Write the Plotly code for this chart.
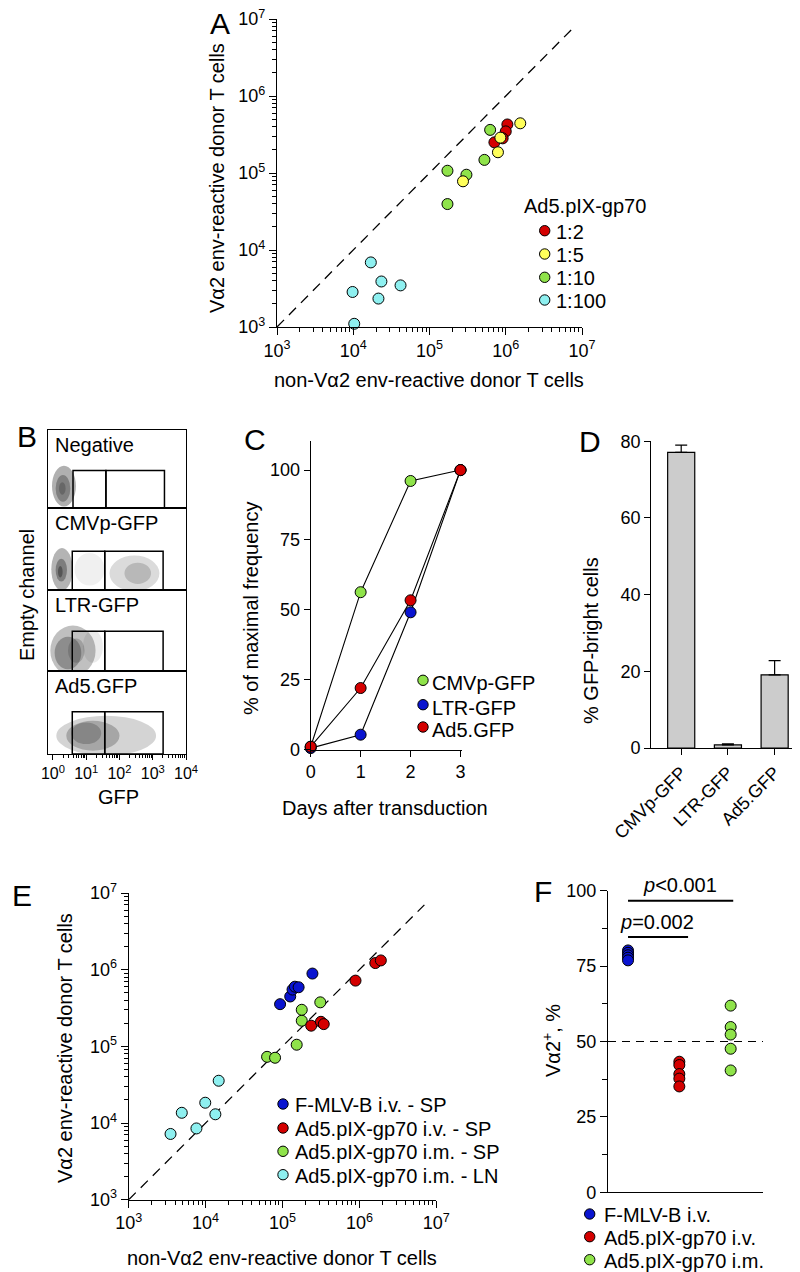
import plotly.graph_objects as go

W, H = 800, 1272
def PX(x): return x / W
def PY(y): return 1 - y / H

FONT = "Liberation Sans, Arial, Helvetica, sans-serif"

# ---------------- Panel A data ----------------
A_groups = ["1:2", "1:5", "1:10", "1:100"]
A_colors = ["#d40000", "#ffff5a", "#8fe34a", "#8ef0f0"]
A_x_12 = [1.05e6, 1.0e6, 9.1e5, 7.1e5]
A_y_12 = [4.27e5, 3.47e5, 2.82e5, 2.5e5]
A_x_15 = [1.55e6, 8.5e5, 7.9e5, 2.75e5]
A_y_15 = [4.42e5, 2.88e5, 1.86e5, 7.8e4]
A_x_110 = [1.72e5, 1.72e5, 3.05e5, 5.25e5, 6.24e5]
A_y_110 = [3.95e4, 1.07e5, 9.5e4, 1.48e5, 3.63e5]
A_x_1100 = [1.03e4, 9.8e3, 1.7e4, 2.14e4, 2.34e4, 4.17e4]
A_y_1100 = [1.1e3, 2.85e3, 6.9e3, 2.34e3, 3.9e3, 3.47e3]

DIAG_START = 1e3
DIAG_END_A = 7.6e6
DIAG_END_E = 7.0e6

# ---------------- Panel B (flow cytometry) ----------------
B_names = ["Negative", "CMVp-GFP", "LTR-GFP", "Ad5.GFP"]
B_gate_edges = [[4.0, 39.0, 2250.0], [3.8, 36.0, 2050.0], [3.8, 36.0, 2050.0], [3.8, 36.0, 2050.0]]
B_gate_top = [0.48, 0.47, 0.49, 0.51]
# cloud blobs: (center log10 GFP, center y-fraction, half-width decades, half-height, opacity)
B_blobs = [
    [(0.33, 0.28, 0.36, 0.26, 0.40), (0.30, 0.25, 0.22, 0.17, 0.40), (0.28, 0.25, 0.10, 0.08, 0.35)],
    [(0.27, 0.25, 0.32, 0.26, 0.38), (0.25, 0.24, 0.17, 0.14, 0.45), (0.22, 0.22, 0.07, 0.07, 0.60),
     (1.10, 0.25, 0.45, 0.20, 0.08), (2.45, 0.20, 0.75, 0.22, 0.18), (2.55, 0.20, 0.40, 0.13, 0.22)],
    [(0.60, 0.25, 0.68, 0.31, 0.32), (0.45, 0.22, 0.40, 0.20, 0.38), (0.70, 0.25, 0.25, 0.15, 0.25),
     (1.20, 0.30, 0.30, 0.20, 0.10)],
    [(1.60, 0.22, 1.50, 0.24, 0.22), (1.20, 0.22, 0.80, 0.18, 0.30), (1.00, 0.25, 0.45, 0.13, 0.30)],
]

# ---------------- Panel C data ----------------
C_days = [0, 1, 2, 3]
C_names = ["CMVp-GFP", "LTR-GFP", "Ad5.GFP"]
C_colors = ["#8fe34a", "#0a14d0", "#d40000"]
C_cmv = [1.0, 56.3, 96.1, 100.0]
C_ltr = [0.5, 5.3, 49.1, 100.0]
C_ad5 = [1.0, 22.0, 53.4, 100.0]

# ---------------- Panel D data ----------------
D_cats = ["CMVp-GFP", "LTR-GFP", "Ad5.GFP"]
D_vals = [77.1, 0.8, 19.1]
D_errs = [1.9, 0.3, 3.7]

# ---------------- Panel E data ----------------
E_names = ["F-MLV-B i.v. - SP", "Ad5.pIX-gp70 i.v. - SP", "Ad5.pIX-gp70 i.m. - SP", "Ad5.pIX-gp70 i.m. - LN"]
E_colors = ["#0a14d0", "#d40000", "#8fe34a", "#8ef0f0"]
E_x_fmlv = [9.3e4, 1.26e5, 1.35e5, 1.45e5, 1.62e5, 2.45e5]
E_y_fmlv = [3.55e5, 4.47e5, 5.5e5, 6.0e5, 5.9e5, 8.9e5]
E_x_ivsp = [2.36e5, 3.16e5, 3.44e5, 8.9e5, 1.61e6, 1.9e6]
E_y_ivsp = [1.86e5, 2.09e5, 1.95e5, 7.2e5, 1.22e6, 1.32e6]
E_x_imsp = [6.3e4, 8.0e4, 1.53e5, 1.78e5, 1.78e5, 3.1e5]
E_y_imsp = [7.3e4, 7.1e4, 1.05e5, 2.16e5, 3.0e5, 3.75e5]
E_x_imln = [3.5e3, 4.9e3, 7.6e3, 9.9e3, 1.34e4, 1.48e4]
E_y_imln = [7.2e3, 1.36e4, 8.5e3, 1.84e4, 1.3e4, 3.56e4]

# ---------------- Panel F data ----------------
F_names = ["F-MLV-B i.v.", "Ad5.pIX-gp70 i.v.", "Ad5.pIX-gp70 i.m."]
F_colors = ["#0a14d0", "#d40000", "#8fe34a"]
F_fmlv = [80.2, 79.4, 78.6, 77.8, 76.9]
F_ad5iv = [43.3, 42.2, 39.2, 37.7, 35.1]
F_ad5im = [61.9, 54.8, 52.3, 47.6, 40.4]
F_ref = 50

LOG_TICKS = [1e3, 1e4, 1e5, 1e6, 1e7]
LOG_TEXT = ["10<sup>3</sup>", "10<sup>4</sup>", "10<sup>5</sup>", "10<sup>6</sup>", "10<sup>7</sup>"]
LOG_MINOR = [m * 10 ** e for e in range(3, 7) for m in range(2, 10)]
B_TICKS = [1, 10, 100, 1000, 10000]
B_TEXT = ["10<sup>0</sup>", "10<sup>1</sup>", "10<sup>2</sup>", "10<sup>3</sup>", "10<sup>4</sup>"]
B_MINOR = [m * 10 ** e for e in range(0, 4) for m in range(2, 10)]


def ax(**kw):
    d = dict(showline=True, linecolor="black", linewidth=1.3, showgrid=False, zeroline=False,
             automargin=False, ticks="outside", tickcolor="black", tickwidth=1.2, ticklen=7,
             ticklabeloverflow="allow",
             tickfont=dict(family=FONT, size=18, color="black"))
    d.update(kw)
    return d


fig = go.Figure()
MK = dict(size=11, line=dict(color="black", width=1))

# Panel A traces
fig.add_trace(go.Scatter(x=[DIAG_START, DIAG_END_A], y=[DIAG_START, DIAG_END_A], mode="lines",
                         line=dict(color="black", width=1.3, dash="10px,7px"), xaxis="x", yaxis="y",
                         hoverinfo="skip"))
for xs, ys, col, nm in [(A_x_1100, A_y_1100, A_colors[3], A_groups[3]),
                        (A_x_110, A_y_110, A_colors[2], A_groups[2]),
                        (A_x_12, A_y_12, A_colors[0], A_groups[0]),
                        (A_x_15, A_y_15, A_colors[1], A_groups[1])]:
    fig.add_trace(go.Scatter(x=xs, y=ys, mode="markers", name=nm, marker=dict(color=col, **MK),
                             xaxis="x", yaxis="y", cliponaxis=False))

# Panel C traces
for ys, col, nm in [(C_cmv, C_colors[0], C_names[0]), (C_ltr, C_colors[1], C_names[1]),
                    (C_ad5, C_colors[2], C_names[2])]:
    fig.add_trace(go.Scatter(x=C_days, y=ys, mode="lines+markers", name=nm,
                             line=dict(color="black", width=1.1),
                             marker=dict(color=col, size=11, line=dict(color="black", width=1)),
                             xaxis="x6", yaxis="y6", cliponaxis=False))

# Panel D
fig.add_trace(go.Bar(x=D_cats, y=D_vals, marker=dict(color="#cccccc", line=dict(color="black", width=1.2)),
                     width=0.58,
                     error_y=dict(type="data", array=D_errs, arrayminus=[0, 0, 0], symmetric=False,
                                  color="black", thickness=1.2, width=6),
                     xaxis="x7", yaxis="y7"))

# Panel E
fig.add_trace(go.Scatter(x=[DIAG_START, DIAG_END_E], y=[DIAG_START, DIAG_END_E], mode="lines",
                         line=dict(color="black", width=1.3, dash="10px,7px"), xaxis="x8", yaxis="y8",
                         hoverinfo="skip"))
for xs, ys, col, nm in [(E_x_imln, E_y_imln, E_colors[3], E_names[3]),
                        (E_x_imsp, E_y_imsp, E_colors[2], E_names[2]),
                        (E_x_ivsp, E_y_ivsp, E_colors[1], E_names[1]),
                        (E_x_fmlv, E_y_fmlv, E_colors[0], E_names[0])]:
    fig.add_trace(go.Scatter(x=xs, y=ys, mode="markers", name=nm, marker=dict(color=col, **MK),
                             xaxis="x8", yaxis="y8", cliponaxis=False))

# Panel F
for i, (ys, col, nm) in enumerate([(F_fmlv, F_colors[0], F_names[0]), (F_ad5iv, F_colors[1], F_names[1]),
                                   (F_ad5im, F_colors[2], F_names[2])]):
    fig.add_trace(go.Scatter(x=[i] * len(ys), y=ys, mode="markers", name=nm,
                             marker=dict(color=col, **MK), xaxis="x9", yaxis="y9", cliponaxis=False))

shapes = []
annotations = []

# Panel B blobs and gates
B_ydom = [(421.7, 500), (500, 581.7), (581.7, 663), (663, 746)]
for i in range(4):
    xr = "x%d" % (i + 2)
    yr = "y%d" % (i + 2)
    for (cx, cy, wx, wy, op) in B_blobs[i]:
        shapes.append(dict(type="circle", xref=xr, yref=yr, x0=10 ** (cx - wx), x1=10 ** (cx + wx),
                           y0=cy - wy, y1=cy + wy, fillcolor="#3a3a3a", opacity=op,
                           line=dict(width=0), layer="below"))
    g = B_gate_edges[i]
    for a, b in [(g[0], g[1]), (g[1], g[2])]:
        shapes.append(dict(type="rect", xref=xr, yref=yr, x0=a, x1=b, y0=0, y1=B_gate_top[i],
                           line=dict(color="black", width=1.5)))
    annotations.append(dict(text=B_names[i], x=PX(45), y=PY(B_ydom[i][0] + 15), xref="paper", yref="paper",
                            xanchor="left", yanchor="middle", showarrow=False,
                            font=dict(family=FONT, size=20, color="black")))

# Panel F reference line and significance bars
shapes.append(dict(type="line", xref="x9", yref="y9", x0=-0.39, x1=2.63, y0=F_ref, y1=F_ref,
                   line=dict(color="black", width=1.1, dash="8px,6px")))
shapes.append(dict(type="line", xref="x9", yref="paper", x0=0, x1=2.05, y0=PY(892.7), y1=PY(892.7),
                   line=dict(color="black", width=2)))
shapes.append(dict(type="line", xref="x9", yref="paper", x0=0, x1=1.17, y0=PY(929), y1=PY(929),
                   line=dict(color="black", width=2)))


def txt(t, x, y, size=20, xanchor="center", angle=0):
    annotations.append(dict(text=t, x=PX(x), y=PY(y), xref="paper", yref="paper", xanchor=xanchor,
                            yanchor="middle", showarrow=False, textangle=angle,
                            font=dict(family=FONT, size=size, color="black")))


def dot(cx, cy, col, r=5.2):
    shapes.append(dict(type="circle", xref="paper", yref="paper", xsizemode="pixel", ysizemode="pixel",
                       xanchor=PX(cx), yanchor=PY(cy), x0=-r, x1=r, y0=-r, y1=r,
                       fillcolor=col, line=dict(color="black", width=1)))


# Panel letters
txt("A", 212, 16, 30)
txt("B", 19, 428, 30)
txt("C", 247, 432, 30)
txt("D", 582, 433, 30)
txt("E", 14, 887, 30)
txt("F", 535, 883, 30)

# Axis titles
txt("Vα2 env-reactive donor T cells", 209, 170, 20, angle=-90)
txt("non-Vα2 env-reactive donor T cells", 421, 372, 20)
txt("Empty channel", 19, 587, 20, angle=-90)
txt("GFP", 110, 789, 20)
txt("% of maximal frequency", 243, 601, 20, angle=-90)
txt("Days after transduction", 377, 800, 20)
txt("% GFP-bright cells", 583, 633, 20, angle=-90)
txt("Vα2 env-reactive donor T cells", 57, 1040, 20, angle=-90)
txt("non-Vα2 env-reactive donor T cells", 274, 1250, 20)
txt("Vα2<sup>+</sup>, %", 543, 1033, 20, angle=-90)

# significance text
txt("<i>p</i>&lt;0.001", 672, 877, 20)
txt("<i>p</i>=0.002", 649, 914, 20)

# Legend A
txt("Ad5.pIX-gp70", 514, 198, 20, xanchor="left")
for j, yy in enumerate([222.7, 246, 269.3, 292]):
    dot(536.7, yy, A_colors[j])
    txt(A_groups[j], 546, yy + 1, 20, xanchor="left")

# Legend C
for j, yy in enumerate([672.3, 696.7, 719]):
    dot(415, yy, C_colors[j])
    txt(C_names[j], 422, yy + 3, 20, xanchor="left")

# Legend E
for j, yy in enumerate([1096, 1120, 1143.3, 1166.7]):
    dot(275, yy, E_colors[j])
    txt(E_names[j], 285, yy + 1, 20, xanchor="left")

# Legend F
for j, yy in enumerate([1206, 1228.7, 1251.7]):
    dot(581.7, yy, F_colors[j])
    txt(F_names[j], 594, yy + 1, 20, xanchor="left")

layout = dict(
    template="none",
    width=W, height=H, margin=dict(l=0, r=0, t=0, b=0, pad=0, autoexpand=False),
    paper_bgcolor="white", plot_bgcolor="white",
    showlegend=False, font=dict(family=FONT, color="black"),
    # A
    xaxis=ax(domain=[PX(269), PX(574)], type="log", range=[3, 7], tickvals=LOG_TICKS, ticktext=LOG_TEXT,
             anchor="y", minor=dict(ticks="outside", ticklen=4, tickvals=LOG_MINOR, tickcolor="black")),
    yaxis=ax(domain=[PY(319), PY(11)], type="log", range=[3, 7], tickvals=LOG_TICKS, ticktext=LOG_TEXT,
             anchor="x", minor=dict(ticks="outside", ticklen=4, tickvals=LOG_MINOR, tickcolor="black")),
    # C
    xaxis6=ax(domain=[PX(302.7), PX(454)], range=[0, 3.03], tickvals=C_days, anchor="y6", ticklen=6),
    yaxis6=ax(domain=[PY(741.5), PY(433.3)], range=[0, 110.3], tickvals=[0, 25, 50, 75, 100], anchor="x6",
              ticklen=6),
    # D
    xaxis7=ax(domain=[PX(643.3), PX(797)], type="category", range=[-0.64, 2.65], tickangle=-45,
              anchor="y7", ticklen=6),
    yaxis7=ax(domain=[PY(740), PY(433.3)], range=[0, 80], tickvals=[0, 20, 40, 60, 80], anchor="x7",
              ticklen=6),
    # E
    xaxis8=ax(domain=[PX(120.7), PX(428.3)], type="log", range=[3, 7], tickvals=LOG_TICKS, ticktext=LOG_TEXT,
              anchor="y8", minor=dict(ticks="outside", ticklen=4, tickvals=LOG_MINOR, tickcolor="black")),
    yaxis8=ax(domain=[PY(1191.7), PY(885)], type="log", range=[3, 7], tickvals=LOG_TICKS, ticktext=LOG_TEXT,
              anchor="x8", minor=dict(ticks="outside", ticklen=4, tickvals=LOG_MINOR, tickcolor="black")),
    # F
    xaxis9=ax(domain=[PX(600), PX(755)], range=[-0.39, 2.63], showticklabels=False, ticks="",
              anchor="y9"),
    yaxis9=ax(domain=[PY(1184.3), PY(882.7)], range=[0, 100], tickvals=[0, 25, 50, 75, 100], anchor="x9",
              ticklen=7, minor=dict(ticks="outside", ticklen=5, tickvals=[12.5, 37.5, 62.5, 87.5],
                                    tickcolor="black")),
    shapes=shapes, annotations=annotations,
)

# B subpanel axes
for i in range(4):
    n = i + 2
    bottom = (i == 3)
    xa = ax(domain=[PX(40), PX(178)], type="log", range=[-0.15, 4.0], mirror=True,
            anchor="y%d" % n, tickfont=dict(family=FONT, size=16, color="black"), ticklen=5)
    if bottom:
        xa.update(tickvals=B_TICKS, ticktext=B_TEXT, ticks="outside", showticklabels=True,
                  minor=dict(ticks="outside", ticklen=3, tickvals=B_MINOR, tickcolor="black"))
    else:
        xa.update(ticks="", showticklabels=False)
    layout["xaxis%d" % n] = xa
    layout["yaxis%d" % n] = ax(domain=[PY(B_ydom[i][1]), PY(B_ydom[i][0])], range=[0, 1], mirror=True,
                               anchor="x%d" % n, ticks="", showticklabels=False)
    # invisible anchor trace for the subplot
    fig.add_trace(go.Scatter(x=[1], y=[-1], mode="markers", marker=dict(size=1, opacity=0),
                             xaxis="x%d" % n, yaxis="y%d" % n, hoverinfo="skip"))

fig.update_layout(**layout)
fig.write_html("out.html")
